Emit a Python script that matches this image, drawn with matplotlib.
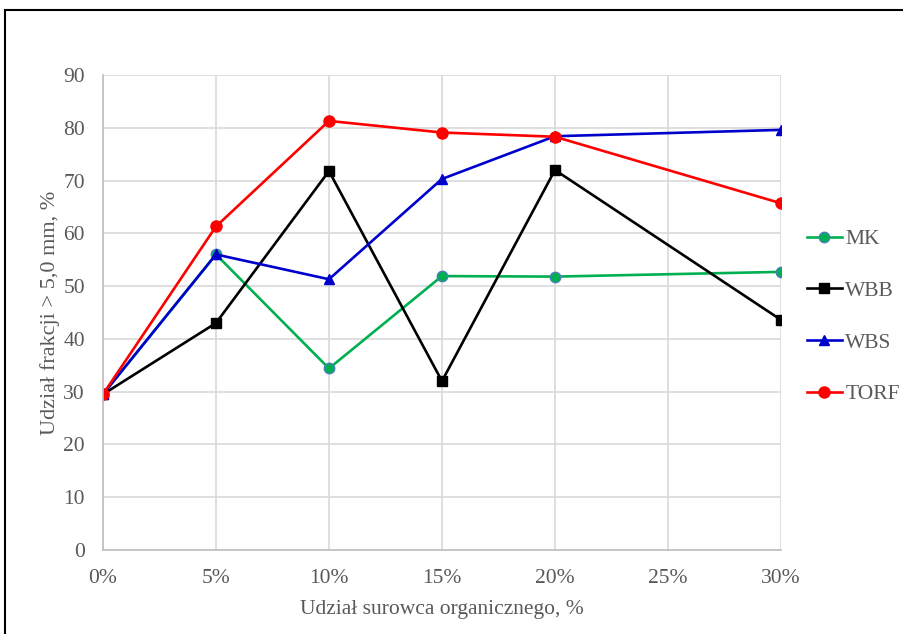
import matplotlib
matplotlib.use("Agg")
import matplotlib.pyplot as plt
from matplotlib.patches import Rectangle
from matplotlib.ticker import FuncFormatter

plt.rcParams['font.family'] = ['Liberation Serif', 'DejaVu Serif']

# udział surowca organicznego (ułamek)
x = [0.0, 0.05, 0.10, 0.15, 0.20, 0.30]
mk = [29.5, 56.0, 34.4, 51.9, 51.8, 52.7]
wbb = [29.5, 43.0, 71.8, 32.0, 72.0, 43.6]
wbs = [29.5, 56.0, 51.3, 70.3, 78.4, 79.6]
torf = [29.5, 61.3, 81.3, 79.1, 78.3, 65.7]

txt = '#595959'
fs = 15.5

fig = plt.figure(figsize=(9.04, 6.34), dpi=100)
ax = fig.add_axes([0.1139, 0.1325, 0.75, 0.7492])

ax.plot(x, mk, color='#00b050', lw=1.9, marker='o', ms=7.5,
        mfc='#00b050', mec='#4a7ebb', mew=1.0, label='MK')
ax.plot(x, wbb, color='black', lw=1.9, marker='s', ms=7.5, label='WBB')
ax.plot(x, wbs, color='#0000cc', lw=1.9, marker='^', ms=7.5, label='WBS')
ax.plot(x, torf, color='#ff0000', lw=1.9, marker='o', ms=8, label='TORF')

ax.set_xlim(0, 0.30)
ax.set_ylim(0, 90)
ax.set_xticks([0, 0.05, 0.10, 0.15, 0.20, 0.25, 0.30])
ax.set_yticks(range(0, 91, 10))
ax.xaxis.set_major_formatter(FuncFormatter(lambda v, p: f"{round(v*100)}%"))
ax.grid(True, color='#d9d9d9', lw=1.2)
ax.set_axisbelow(True)
for s in ['top', 'right']:
    ax.spines[s].set_visible(False)
for s in ['left', 'bottom']:
    ax.spines[s].set_color('#bfbfbf')
    ax.spines[s].set_linewidth(1.2)
ax.tick_params(length=0, labelsize=fs, labelcolor=txt)
ax.tick_params(axis='x', pad=14)
ax.tick_params(axis='y', pad=13)

ax.set_xlabel('Udział surowca organicznego, %', fontsize=fs, color=txt, labelpad=8)
ax.set_ylabel('Udział frakcji > 5,0 mm, %', fontsize=16, color=txt, labelpad=2)

leg = fig.legend(loc='center left', bbox_to_anchor=(0.8925, 0.5005), frameon=False,
                 fontsize=fs, labelspacing=1.47, handlelength=1.63,
                 handletextpad=0.15, borderaxespad=0, borderpad=0)
for t in leg.get_texts():
    t.set_color(txt)

# ramka wykresu
fig.patches.append(Rectangle((5 / 904, -0.1), 1.2, 1 - 10 / 634 + 0.1,
                             transform=fig.transFigure, fill=False,
                             edgecolor='black', lw=1.5))

fig.savefig('out.png', dpi=100)
